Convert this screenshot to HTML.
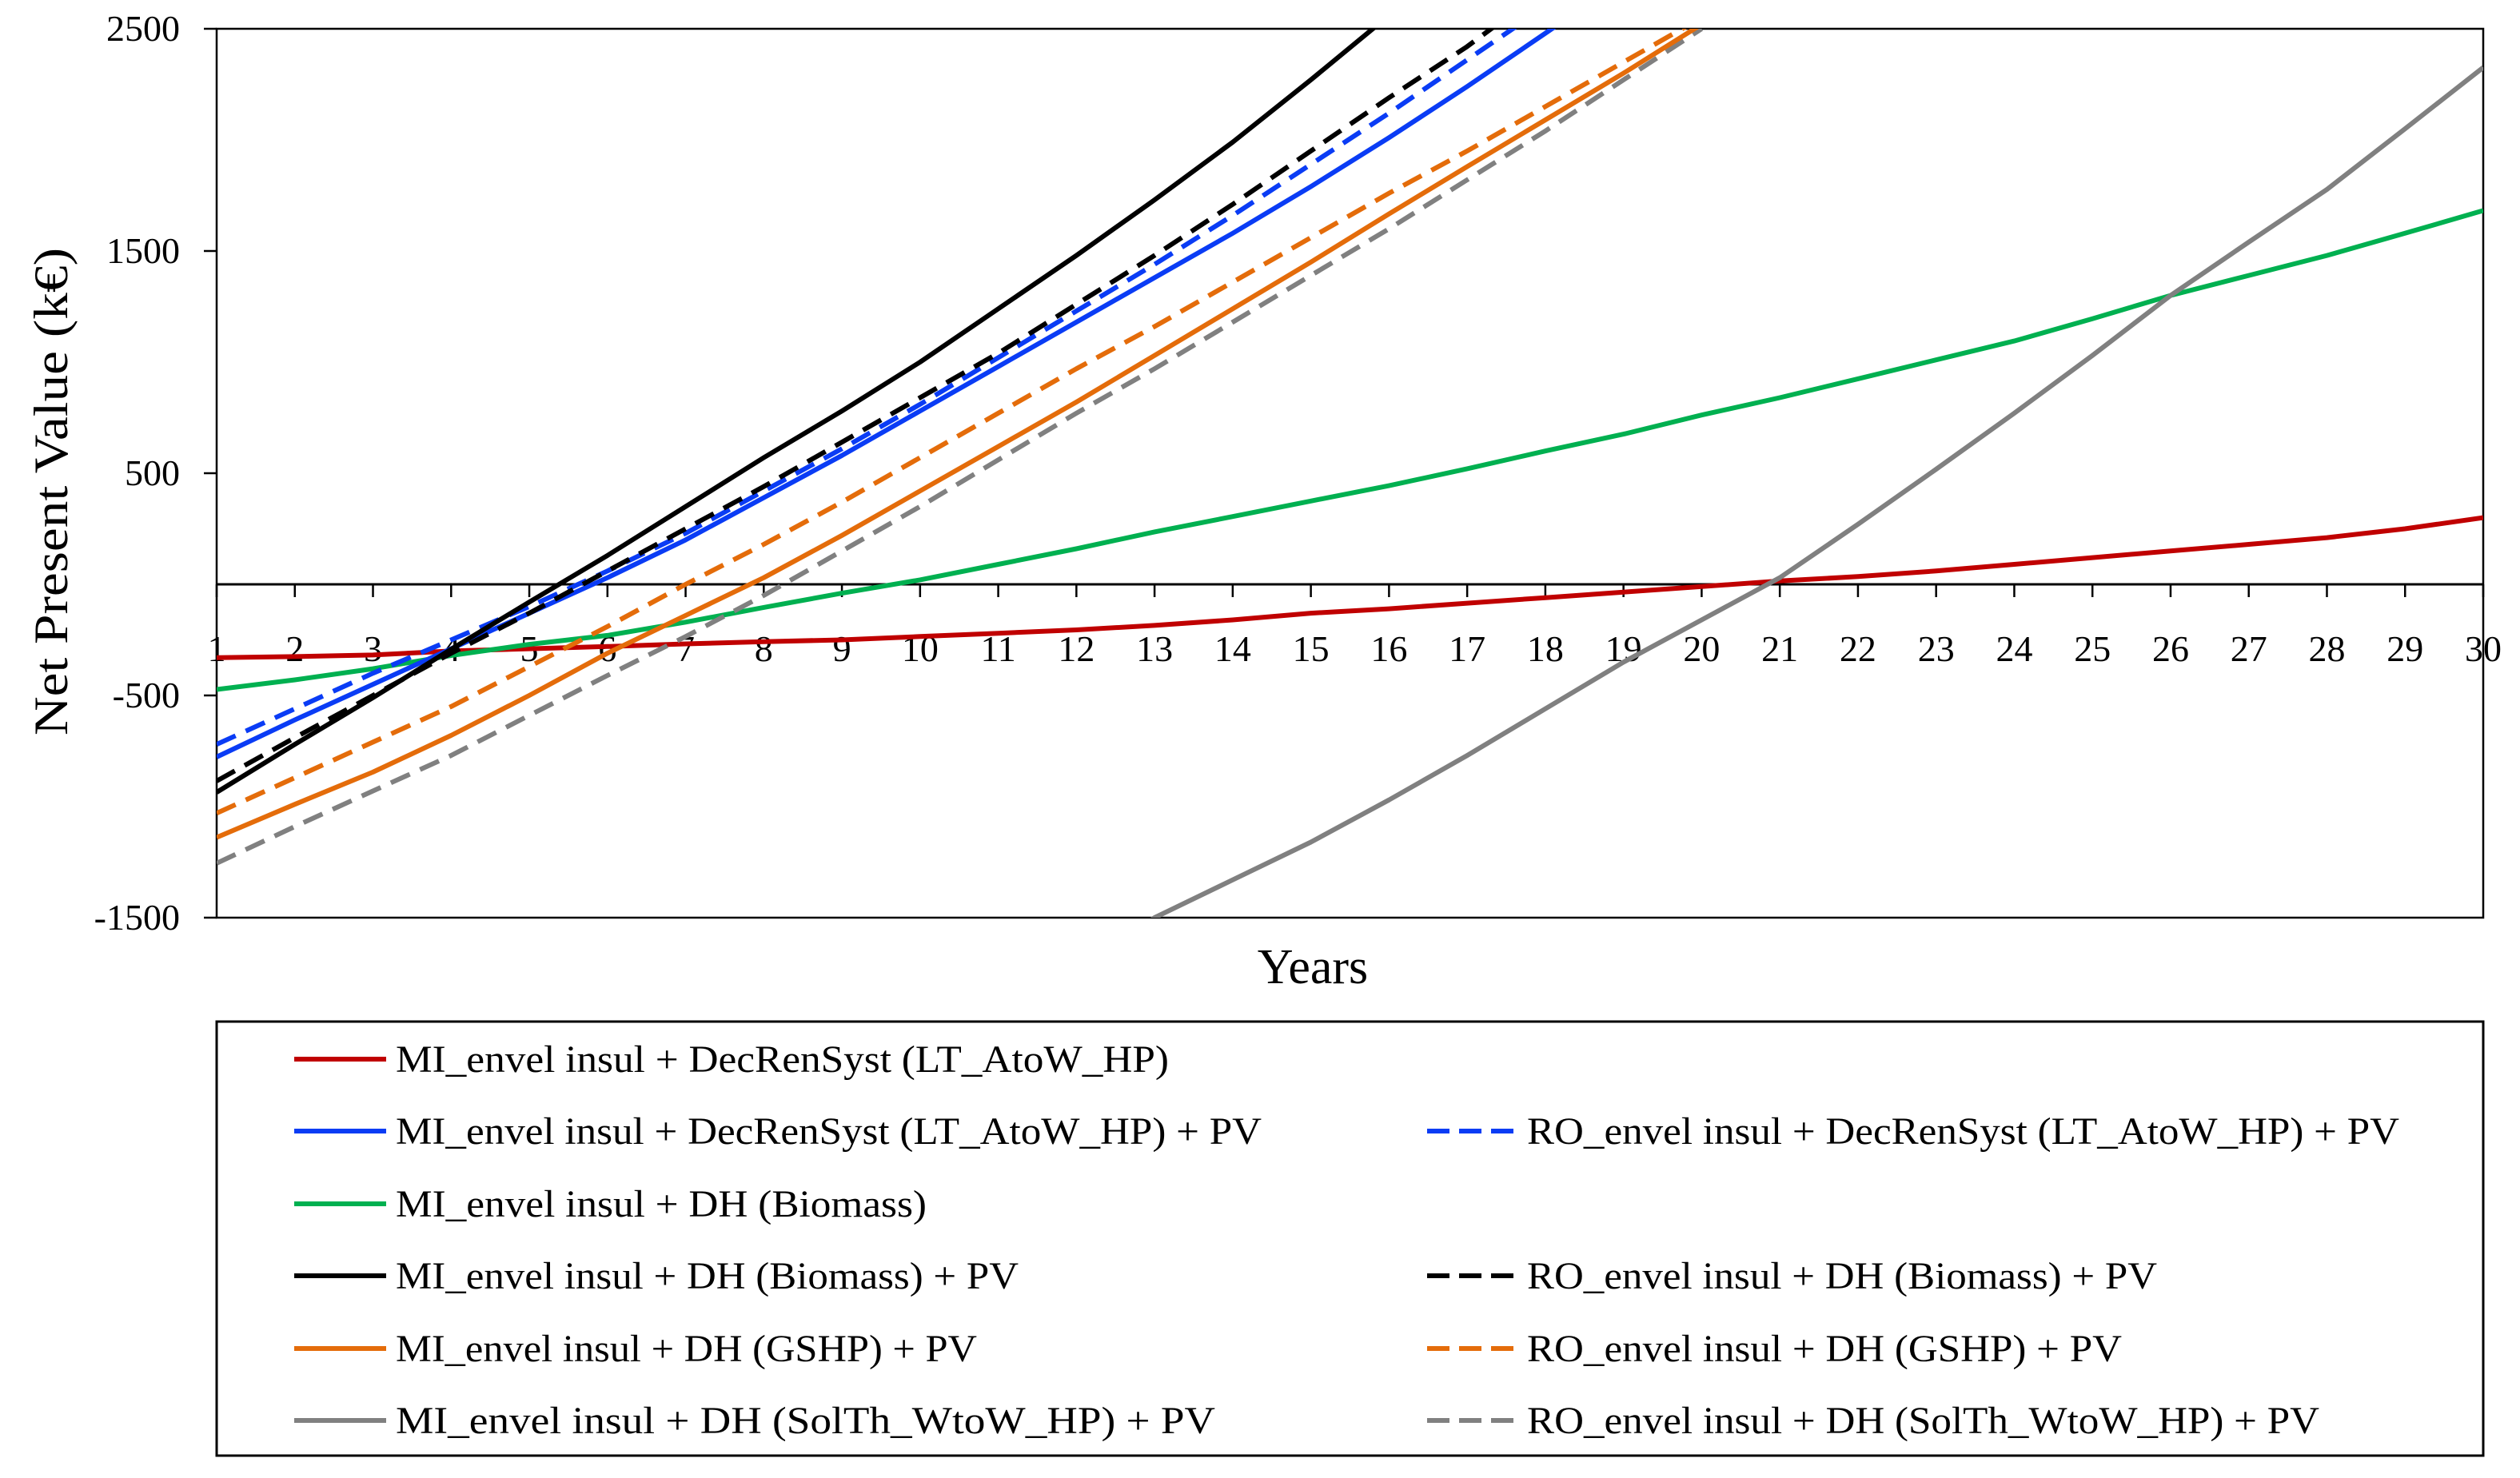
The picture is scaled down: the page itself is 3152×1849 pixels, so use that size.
<!DOCTYPE html>
<html><head><meta charset="utf-8"><style>
html,body{margin:0;padding:0;background:#fff;}
svg{display:block;font-family:"Liberation Serif",serif;}
</style></head><body>
<svg id="chart" width="3152" height="1849" viewBox="0 0 3152 1849" xmlns="http://www.w3.org/2000/svg">
<defs><clipPath id="plotclip"><rect x="271" y="36" width="2835" height="1112"/></clipPath></defs>
<rect x="0" y="0" width="3152" height="1849" fill="#fff"/>
<g id="axes"></g>
<g id="series" clip-path="url(#plotclip)"></g>
<text x="0" y="0" font-size="60" text-anchor="middle" textLength="610" lengthAdjust="spacingAndGlyphs" transform="translate(84,615) rotate(-90)">Net Present Value (k€)</text>
<text x="1642" y="1230" font-size="62" text-anchor="middle">Years</text>
<rect x="271" y="1278" width="2835" height="543" fill="none" stroke="#000" stroke-width="3"/>
<g id="legend"></g>
</svg>
<script>
const years = [1,2,3,4,5,6,7,8,9,10,11,12,13,14,15,16,17,18,19,20,21,22,23,24,25,26,27,28,29,30];
const yTicks = [2500,1500,500,-500,-1500];
const redMI = [-330,-325,-318,-300,-290,-280,-268,-258,-250,-235,-220,-205,-185,-160,-130,-110,-85,-60,-35,-10,15,35,60,90,120,150,180,210,250,300];
const greenMI = [-473,-430,-380,-320,-270,-230,-170,-104,-40,20,90,160,236,305,375,444,520,600,676,762,840,925,1010,1095,1195,1300,1390,1480,1580,1682];
const blueMI = [-777,-610,-450,-290,-130,30,200,390,580,780,980,1180,1380,1580,1790,2010,2240,2480,2720];
const blueRO = [-720,-560,-400,-250,-100,60,230,420,610,810,1020,1230,1440,1660,1890,2120,2360,2600];
const blackMI = [-936,-720,-510,-292,-80,130,350,570,780,1000,1240,1480,1730,1990,2270,2560];
const blackRO = [-885,-690,-500,-310,-130,60,250,440,640,840,1040,1260,1480,1710,1950,2190,2420,2680];
const orangeMI = [-1139,-990,-845,-680,-500,-310,-140,30,220,420,620,820,1030,1240,1450,1667,1880,2090,2300,2520];
const orangeRO = [-1030,-870,-710,-550,-370,-190,0,180,370,570,770,970,1160,1360,1560,1760,1950,2150,2350,2550];
const grayRO = [-1255,-1090,-930,-770,-590,-410,-235,-50,150,350,560,770,970,1180,1390,1600,1820,2040,2270,2500];
const grayMIYears = [11,12,13,14,15,16,17,18,19,20,21,22,23,24,25,26,27,28,29,30];
const grayMI = [-1950,-1720,-1500,-1330,-1160,-970,-770,-560,-350,-160,30,270,518,770,1030,1300,1540,1777,2050,2326];

const NS = "http://www.w3.org/2000/svg";
const X0 = 271, X1 = 3106, Y0 = 36, Y1 = 1148;
const xS = yr => X0 + (yr - 1) * (X1 - X0) / 29;
const yS = v => Y0 + (2500 - v) * (Y1 - Y0) / 4000;
function mk(tag, attrs, parent) {
  const e = document.createElementNS(NS, tag);
  for (const k in attrs) e.setAttribute(k, attrs[k]);
  parent.appendChild(e); return e;
}
const axes = document.getElementById('axes');
mk('rect', {x: X0, y: Y0, width: X1 - X0, height: Y1 - Y0, fill: 'none', stroke: '#000', 'stroke-width': 2.5}, axes);
const zeroY = yS(0);
const zl = mk('line', {x1: X0, y1: zeroY, x2: X1, y2: zeroY, stroke: '#000', 'stroke-width': 3}, axes);


yTicks.forEach(t => {
  const ty = yS(t);
  mk('line', {x1: X0 - 16, y1: ty, x2: X0, y2: ty, stroke: '#000', 'stroke-width': 2.5}, axes);
  const tx = mk('text', {x: 225, y: ty + 15, 'font-size': 46, 'text-anchor': 'end'}, axes);
  tx.textContent = t;
  
  
});
years.forEach(yr => {
  const tx0 = xS(yr);
  mk('line', {x1: tx0, y1: zeroY, x2: tx0, y2: zeroY + 16, stroke: '#000', 'stroke-width': 2.5}, axes);
  const tx = mk('text', {x: tx0, y: zeroY + 96, 'font-size': 46, 'text-anchor': 'middle'}, axes);
  tx.textContent = yr;
  
  
});
const seriesDefs = [
  {name:'mi-decren-lt', xs: years, vals: redMI, color:'#C00000', dash:null},
  {name:'mi-dh-biomass', xs: years, vals: greenMI, color:'#00B050', dash:null},
  {name:'mi-dh-solth-pv', xs: grayMIYears, vals: grayMI, color:'#808080', dash:null},
  {name:'ro-dh-solth-pv', xs: years, vals: grayRO, color:'#808080', dash:'26 14'},
  {name:'mi-dh-gshp-pv', xs: years, vals: orangeMI, color:'#E46C0A', dash:null},
  {name:'ro-dh-gshp-pv', xs: years, vals: orangeRO, color:'#E46C0A', dash:'26 14'},
  {name:'mi-decren-lt-pv', xs: years, vals: blueMI, color:'#0A3CF5', dash:null},
  {name:'ro-decren-lt-pv', xs: years, vals: blueRO, color:'#0A3CF5', dash:'26 14'},
  {name:'mi-dh-biomass-pv', xs: years, vals: blackMI, color:'#000000', dash:null},
  {name:'ro-dh-biomass-pv', xs: years, vals: blackRO, color:'#000000', dash:'26 14'}
];
const sg = document.getElementById('series');
seriesDefs.forEach(s => {
  const pts = s.vals.map((v, i) => xS(s.xs[i]).toFixed(1) + ',' + yS(v).toFixed(1)).join(' ');
  const a = {points: pts, fill: 'none', stroke: s.color, 'stroke-width': 6, 'stroke-linejoin': 'round'};
  if (s.dash) a['stroke-dasharray'] = s.dash;
  const p = mk('polyline', a, sg);
  
  
});
const legendEntries = [
  {t:'MI_envel insul + DecRenSyst (LT_AtoW_HP)', c:'#C00000', d:null, col:0, row:0, w:967},
  {t:'MI_envel insul + DecRenSyst (LT_AtoW_HP) + PV', c:'#0A3CF5', d:null, col:0, row:1, w:1083},
  {t:'RO_envel insul + DecRenSyst (LT_AtoW_HP) + PV', c:'#0A3CF5', d:'26 14', col:1, row:1, w:1091},
  {t:'MI_envel insul + DH (Biomass)', c:'#00B050', d:null, col:0, row:2, w:664},
  {t:'MI_envel insul + DH (Biomass) + PV', c:'#000000', d:null, col:0, row:3, w:779},
  {t:'RO_envel insul + DH (Biomass) + PV', c:'#000000', d:'26 14', col:1, row:3, w:788},
  {t:'MI_envel insul + DH (GSHP) + PV', c:'#E46C0A', d:null, col:0, row:4, w:727},
  {t:'RO_envel insul + DH (GSHP) + PV', c:'#E46C0A', d:'26 14', col:1, row:4, w:744},
  {t:'MI_envel insul + DH (SolTh_WtoW_HP) + PV', c:'#808080', d:null, col:0, row:5, w:1025},
  {t:'RO_envel insul + DH (SolTh_WtoW_HP) + PV', c:'#808080', d:'26 14', col:1, row:5, w:991}
];
const lg = document.getElementById('legend');
const rowY = [1325,1415,1506,1596,1687,1777];
legendEntries.forEach(e => {
  const lx = e.col ? 1785 : 368;
  const tx0 = e.col ? 1910 : 495;
  const y = rowY[e.row];
  const g = mk('g', {}, lg);
  
  
  const la = {x1: lx, y1: y, x2: lx + 115, y2: y, stroke: e.c, 'stroke-width': 6};
  if (e.d) la['stroke-dasharray'] = '28 12';
  mk('line', la, g);
  const t = mk('text', {x: tx0, y: y + 16, 'font-size': 48, textLength: e.w, lengthAdjust: 'spacingAndGlyphs'}, g);
  t.textContent = e.t;
});
</script>
</body></html>
